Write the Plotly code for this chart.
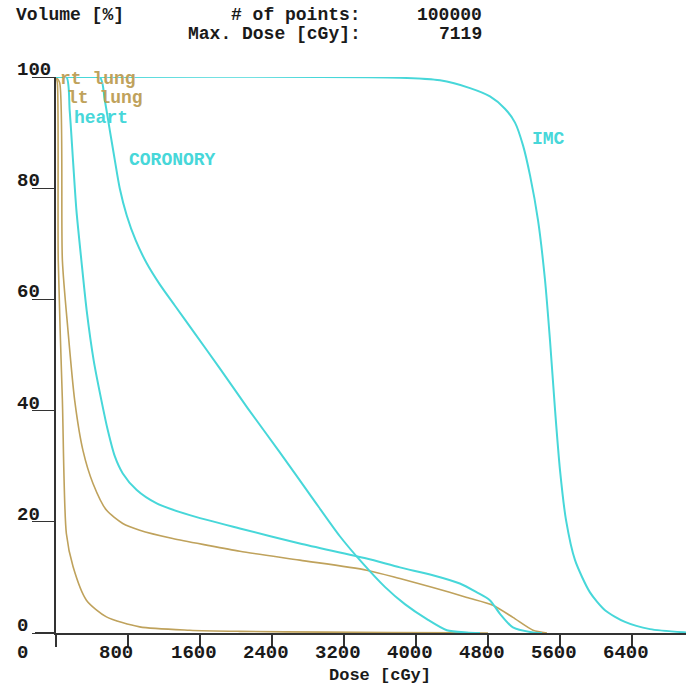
import plotly.graph_objects as go

# ---------------- data ----------------
rt_lung_dose = [0, 15, 25, 71, 115, 190, 338, 560, 930, 1486, 2043, 3000, 4500, 4800]
rt_lung_vol = [100, 99, 67, 41.8, 17.9, 11.9, 5.9, 2.9, 1.1, 0.5, 0.3, 0.15, 0.05, 0]

lt_lung_dose = [0, 40, 71, 130, 208, 300, 411, 560, 742, 930, 1297, 1675, 2043, 2709,
                3451, 3821, 4187, 4565, 4855, 5077, 5300, 5455]
lt_lung_vol = [100, 99, 67, 55, 41.8, 32.8, 26.9, 22.1, 19.7, 18.5, 17.0, 15.8, 14.7, 13.1,
               11.3, 9.8, 8.2, 6.4, 5.0, 2.8, 0.5, 0]

heart_dose = [0, 116, 152, 189, 227, 282, 341, 419, 505, 575, 653, 742, 897, 1119, 1486,
              2043, 2709, 3451, 3821, 4187, 4487, 4676, 4820, 4931, 5077, 5300, 5400]
heart_vol = [100, 100, 94, 85, 76, 67, 58, 49, 41.8, 36.5, 31.8, 28.7, 25.7, 23.3, 21.2,
             18.8, 16.1, 13.4, 11.8, 10.4, 8.9, 7.3, 5.9, 3.5, 1.0, 0.1, 0]

coronory_dose = [0, 486, 541, 597, 653, 708, 786, 886, 1008, 1153, 1320, 1542, 1820, 2131,
                 2487, 2843, 3154, 3399, 3654, 3876, 4121, 4343, 4565, 4710]
coronory_vol = [100, 100, 95.9, 90.5, 85.1, 80.0, 75.1, 70.6, 66.5, 62.7, 58.9, 53.9, 47.6,
                40.4, 32.5, 24.4, 17.4, 12.7, 8.3, 5.2, 2.5, 0.5, 0.1, 0]

imc_dose = [0, 3821, 4266, 4600, 4822, 4988, 5100, 5189, 5267, 5356, 5434, 5489, 5545,
            5600, 5667, 5767, 5933, 6100, 6322, 6600, 7000, 7119]
imc_vol = [100, 99.86, 99.4, 98.0, 96.5, 94.3, 91.8, 87.7, 82.3, 74.2, 63.4, 52.6, 40.1,
           29.3, 20.3, 13.1, 7.3, 4.1, 2.0, 0.7, 0.1, 0]

x_ticks = [0, 800, 1600, 2400, 3200, 4000, 4800, 5600, 6400]
y_ticks = [0, 20, 40, 60, 80, 100]

header_left = "Volume [%]"
header_points_label = "# of points:"
header_points_value = "100000"
header_dose_label = "Max. Dose [cGy]:"
header_dose_value = "7119"
x_title = "Dose [cGy]"

TAN = "#BFA25C"
CYAN = "#47D7D9"
INK = "#1a1a1a"
FONT = "Liberation Mono"

# ---------------- layout geometry ----------------
W_IMG, H_IMG = 686, 686
L, R, T, B = 56, 0, 77, 53
PW, PH = W_IMG - L - R, H_IMG - T - B


def px_x(px):
    return (px - L) / PW


def px_y(py):
    return 1 - (py - T) / PH


fig = go.Figure()

series = [
    ("rt lung", rt_lung_dose, rt_lung_vol, TAN, 1.6),
    ("lt lung", lt_lung_dose, lt_lung_vol, TAN, 1.6),
    ("heart", heart_dose, heart_vol, CYAN, 2.0),
    ("CORONORY", coronory_dose, coronory_vol, CYAN, 2.0),
    ("IMC", imc_dose, imc_vol, CYAN, 2.0),
]
for name, xs, ys, col, w in series:
    fig.add_trace(go.Scatter(x=xs, y=ys, mode="lines", name=name,
                             line=dict(color=col, width=w, shape="spline", smoothing=0.7),
                             showlegend=False, hoverinfo="skip"))

font_main = dict(family=FONT, size=19, color=INK, weight="bold")
font_head = dict(family=FONT, size=18, color=INK, weight="bold")

annotations = []
# curve labels (data coordinates)
curve_labels = [
    ("rt lung", 19, 99.6, TAN),
    ("lt lung", 97, 96.3, TAN),
    ("heart", 175, 92.6, CYAN),
    ("CORONORY", 787, 85.0, CYAN),
    ("IMC", 5266, 88.8, CYAN),
]
for txt, xv, yv, col in curve_labels:
    annotations.append(dict(x=xv, y=yv, xref="x", yref="y", text=txt, showarrow=False,
                            xanchor="left", yanchor="middle",
                            font=dict(family=FONT, size=18, color=col, weight="bold")))

# x tick labels
for v in x_ticks:
    shift = -41 if v == 0 else -31
    annotations.append(dict(x=v, y=px_y(653), xref="x", yref="paper", text=str(v),
                            showarrow=False, xanchor="left", yanchor="middle", xshift=shift,
                            font=font_main))

# y tick labels (sit on the tick line)
for v in y_ticks:
    annotations.append(dict(x=px_x(15), y=v, xref="paper", yref="y", text=str(v),
                            showarrow=False, xanchor="left", yanchor="middle", yshift=7,
                            font=font_main))

# header
annotations += [
    dict(x=px_x(15), y=px_y(15), xref="paper", yref="paper", text=header_left,
         showarrow=False, xanchor="left", yanchor="middle", font=font_head, borderpad=0),
    dict(x=px_x(362), y=px_y(15), xref="paper", yref="paper", text=header_points_label,
         showarrow=False, xanchor="right", yanchor="middle", font=font_head, borderpad=0),
    dict(x=px_x(483), y=px_y(15), xref="paper", yref="paper", text=header_points_value,
         showarrow=False, xanchor="right", yanchor="middle", font=font_head, borderpad=0),
    dict(x=px_x(362), y=px_y(34), xref="paper", yref="paper", text=header_dose_label,
         showarrow=False, xanchor="right", yanchor="middle", font=font_head, borderpad=0),
    dict(x=px_x(483), y=px_y(34), xref="paper", yref="paper", text=header_dose_value,
         showarrow=False, xanchor="right", yanchor="middle", font=font_head, borderpad=0),
    dict(x=px_x(380), y=px_y(675), xref="paper", yref="paper", text=x_title,
         showarrow=False, xanchor="center", yanchor="middle", borderpad=0,
         font=dict(family=FONT, size=17, color=INK, weight="bold")),
]

shapes = [
    # x-axis line extending left past the y axis
    dict(type="line", xref="paper", yref="paper", x0=px_x(35), x1=0, y0=0, y1=0,
         line=dict(color="#333333", width=2)),
]

fig.update_layout(
    width=W_IMG, height=H_IMG,
    margin=dict(l=L, r=R, t=T, b=B, autoexpand=False),
    paper_bgcolor="white", plot_bgcolor="white",
    annotations=annotations, shapes=shapes,
    xaxis=dict(range=[0, 7000], showgrid=False, zeroline=False, showline=True,
               linecolor="#333333", linewidth=2, ticks="outside", ticklen=12,
               tickcolor="#333333", tickwidth=1.5, tickvals=x_ticks,
               showticklabels=False, fixedrange=True),
    yaxis=dict(range=[0, 100], showgrid=False, zeroline=False, showline=True,
               linecolor="#333333", linewidth=1.5, ticks="outside", ticklen=22,
               tickcolor="#333333", tickwidth=1.2, tickvals=y_ticks,
               showticklabels=False, fixedrange=True),
)

fig.write_html("out.html")
